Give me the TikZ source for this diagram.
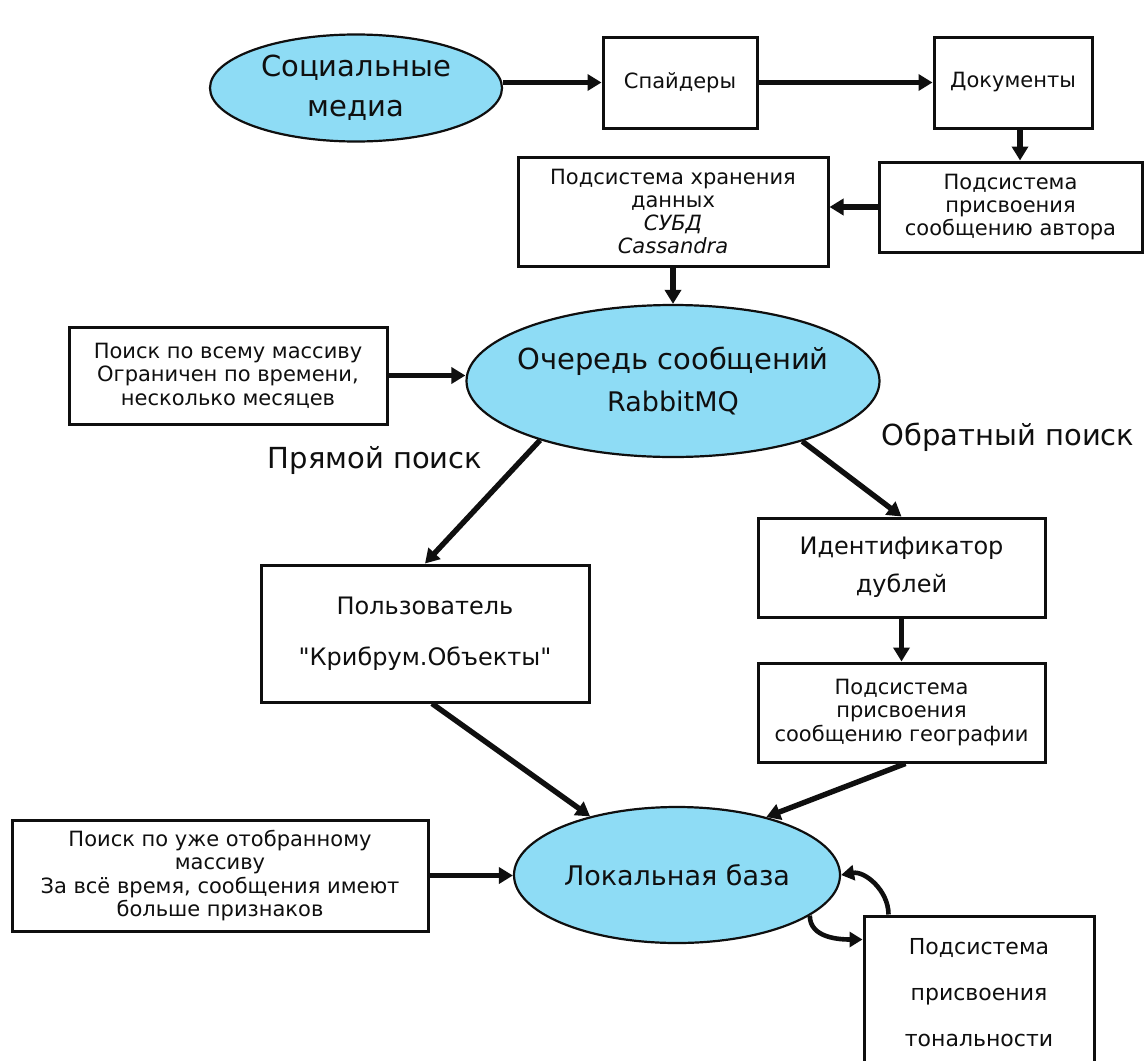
\documentclass[tikz,border=0pt]{standalone}
\usepackage{fontspec}
\setmainfont{DejaVu Sans}[Ligatures=TeXOff]
\usetikzlibrary{arrows.meta,shapes.geometric}
\definecolor{skyfill}{RGB}{142,220,245}
\definecolor{inkc}{RGB}{15,15,15}
\begin{document}
\begin{tikzpicture}[x=1pt,y=-1pt,
  box/.style={draw=inkc, line width=3pt, rectangle, inner sep=0pt, align=center, text=inkc,
              font=\fontsize{21}{23.3}\selectfont},
  oval/.style={draw=inkc, line width=2.2pt, ellipse, fill=skyfill, inner sep=0pt, align=center, text=inkc},
  arr/.style={draw=inkc, line width=5.4pt, -{Triangle[length=14pt,width=16pt]}},
  curvearr/.style={draw=inkc, line width=4.6pt, -{Triangle[length=13pt,width=15pt]}},
  biglabel/.style={font=\fontsize{29}{33}\selectfont, inner sep=0pt, text=inkc}
]
\useasboundingbox (0,0) rectangle (1145,1060);
\fill[white] (0,0) rectangle (1145,1060);
\clip (0,0) rectangle (1145,1060);

% nodes
\node[oval, minimum width=292, minimum height=107, inner xsep=-20pt,
      font=\fontsize{29}{40}\selectfont] (social) at (356,88) {Социальные\\медиа};
\node[box, minimum width=154, minimum height=91] (spider) at (680,82.5) {Спайдеры};
\node[box, minimum width=158, minimum height=91] (docs) at (1013,82.5) {Документы};
\node[box, minimum width=263, minimum height=90] (auth) at (1010.5,207)
      {Подсистема\\присвоения\\сообщению автора};
\node[box, minimum width=310, minimum height=109] (storage) at (673,211.5)
      {Подсистема хранения\\данных\\\itshape СУБД\\\itshape Cassandra};
\node[box, minimum width=318, minimum height=97] (search1) at (228,375.5)
      {Поиск по всему массиву\\Ограничен по времени,\\несколько месяцев};
\node[oval, minimum width=413, minimum height=152, inner xsep=-40pt,
      font=\fontsize{29}{42}\selectfont] (queue) at (673,381)
      {Очередь сообщений\\{\fontsize{27}{42}\selectfont RabbitMQ}};
\node[biglabel] (direct) at (375,460) {Прямой поиск};
\node[biglabel] (reverse) at (1008,437) {Обратный поиск};
\node[box, minimum width=328, minimum height=137, font=\fontsize{24}{51}\selectfont] (user) at (425,633.5)
      {Пользователь\\"Крибрум.Объекты"};
\node[box, minimum width=287, minimum height=99, font=\fontsize{24}{38}\selectfont] (ident) at (901.5,567.5)
      {Идентификатор\\дублей};
\node[box, minimum width=287, minimum height=99] (geo) at (901.5,712.5)
      {Подсистема\\присвоения\\сообщению географии};
\node[oval, minimum width=326, minimum height=136, font=\fontsize{27}{32}\selectfont] (local) at (677,875)
      {Локальная база};
\node[box, minimum width=416, minimum height=111] (search2) at (220,875.5)
      {Поиск по уже отобранному\\массиву\\За всё время, сообщения имеют\\больше признаков};
\node[box, minimum width=230, minimum height=154, font=\fontsize{22}{46}\selectfont] (tonal) at (979,993)
      {Подсистема\\присвоения\\тональности};

% connectors
\draw[arr] (social.east |- spider.west) -- (spider.west);
\draw[arr] (spider.east) -- (docs.west);
\draw[arr] ([xshift=7pt]docs.south) -- ([xshift=7pt]docs.south |- auth.north);
\draw[arr] (auth.west) -- (auth.west -| storage.east);
\draw[arr] (storage.south) -- (queue.north);
\draw[arr] (search1.east) -- (search1.east -| queue.west);
\draw[arr] (queue.204) -- (user.north);
\draw[arr] (queue.335) -- (ident.north);
\draw[arr] (ident.south) -- (geo.north);
\draw[arr] ([xshift=7pt]user.south) -- (local.146);
\draw[arr] ([xshift=4pt]geo.south) -- (local.33);
\draw[arr] (search2.east) -- (search2.east -| local.west);
\draw[curvearr] ([xshift=26pt]tonal.north west) to[out=90,in=10] (local.east);
\draw[curvearr] (local.343) to[out=-90,in=180] ([yshift=-25pt]tonal.north west);
\end{tikzpicture}
\end{document}
